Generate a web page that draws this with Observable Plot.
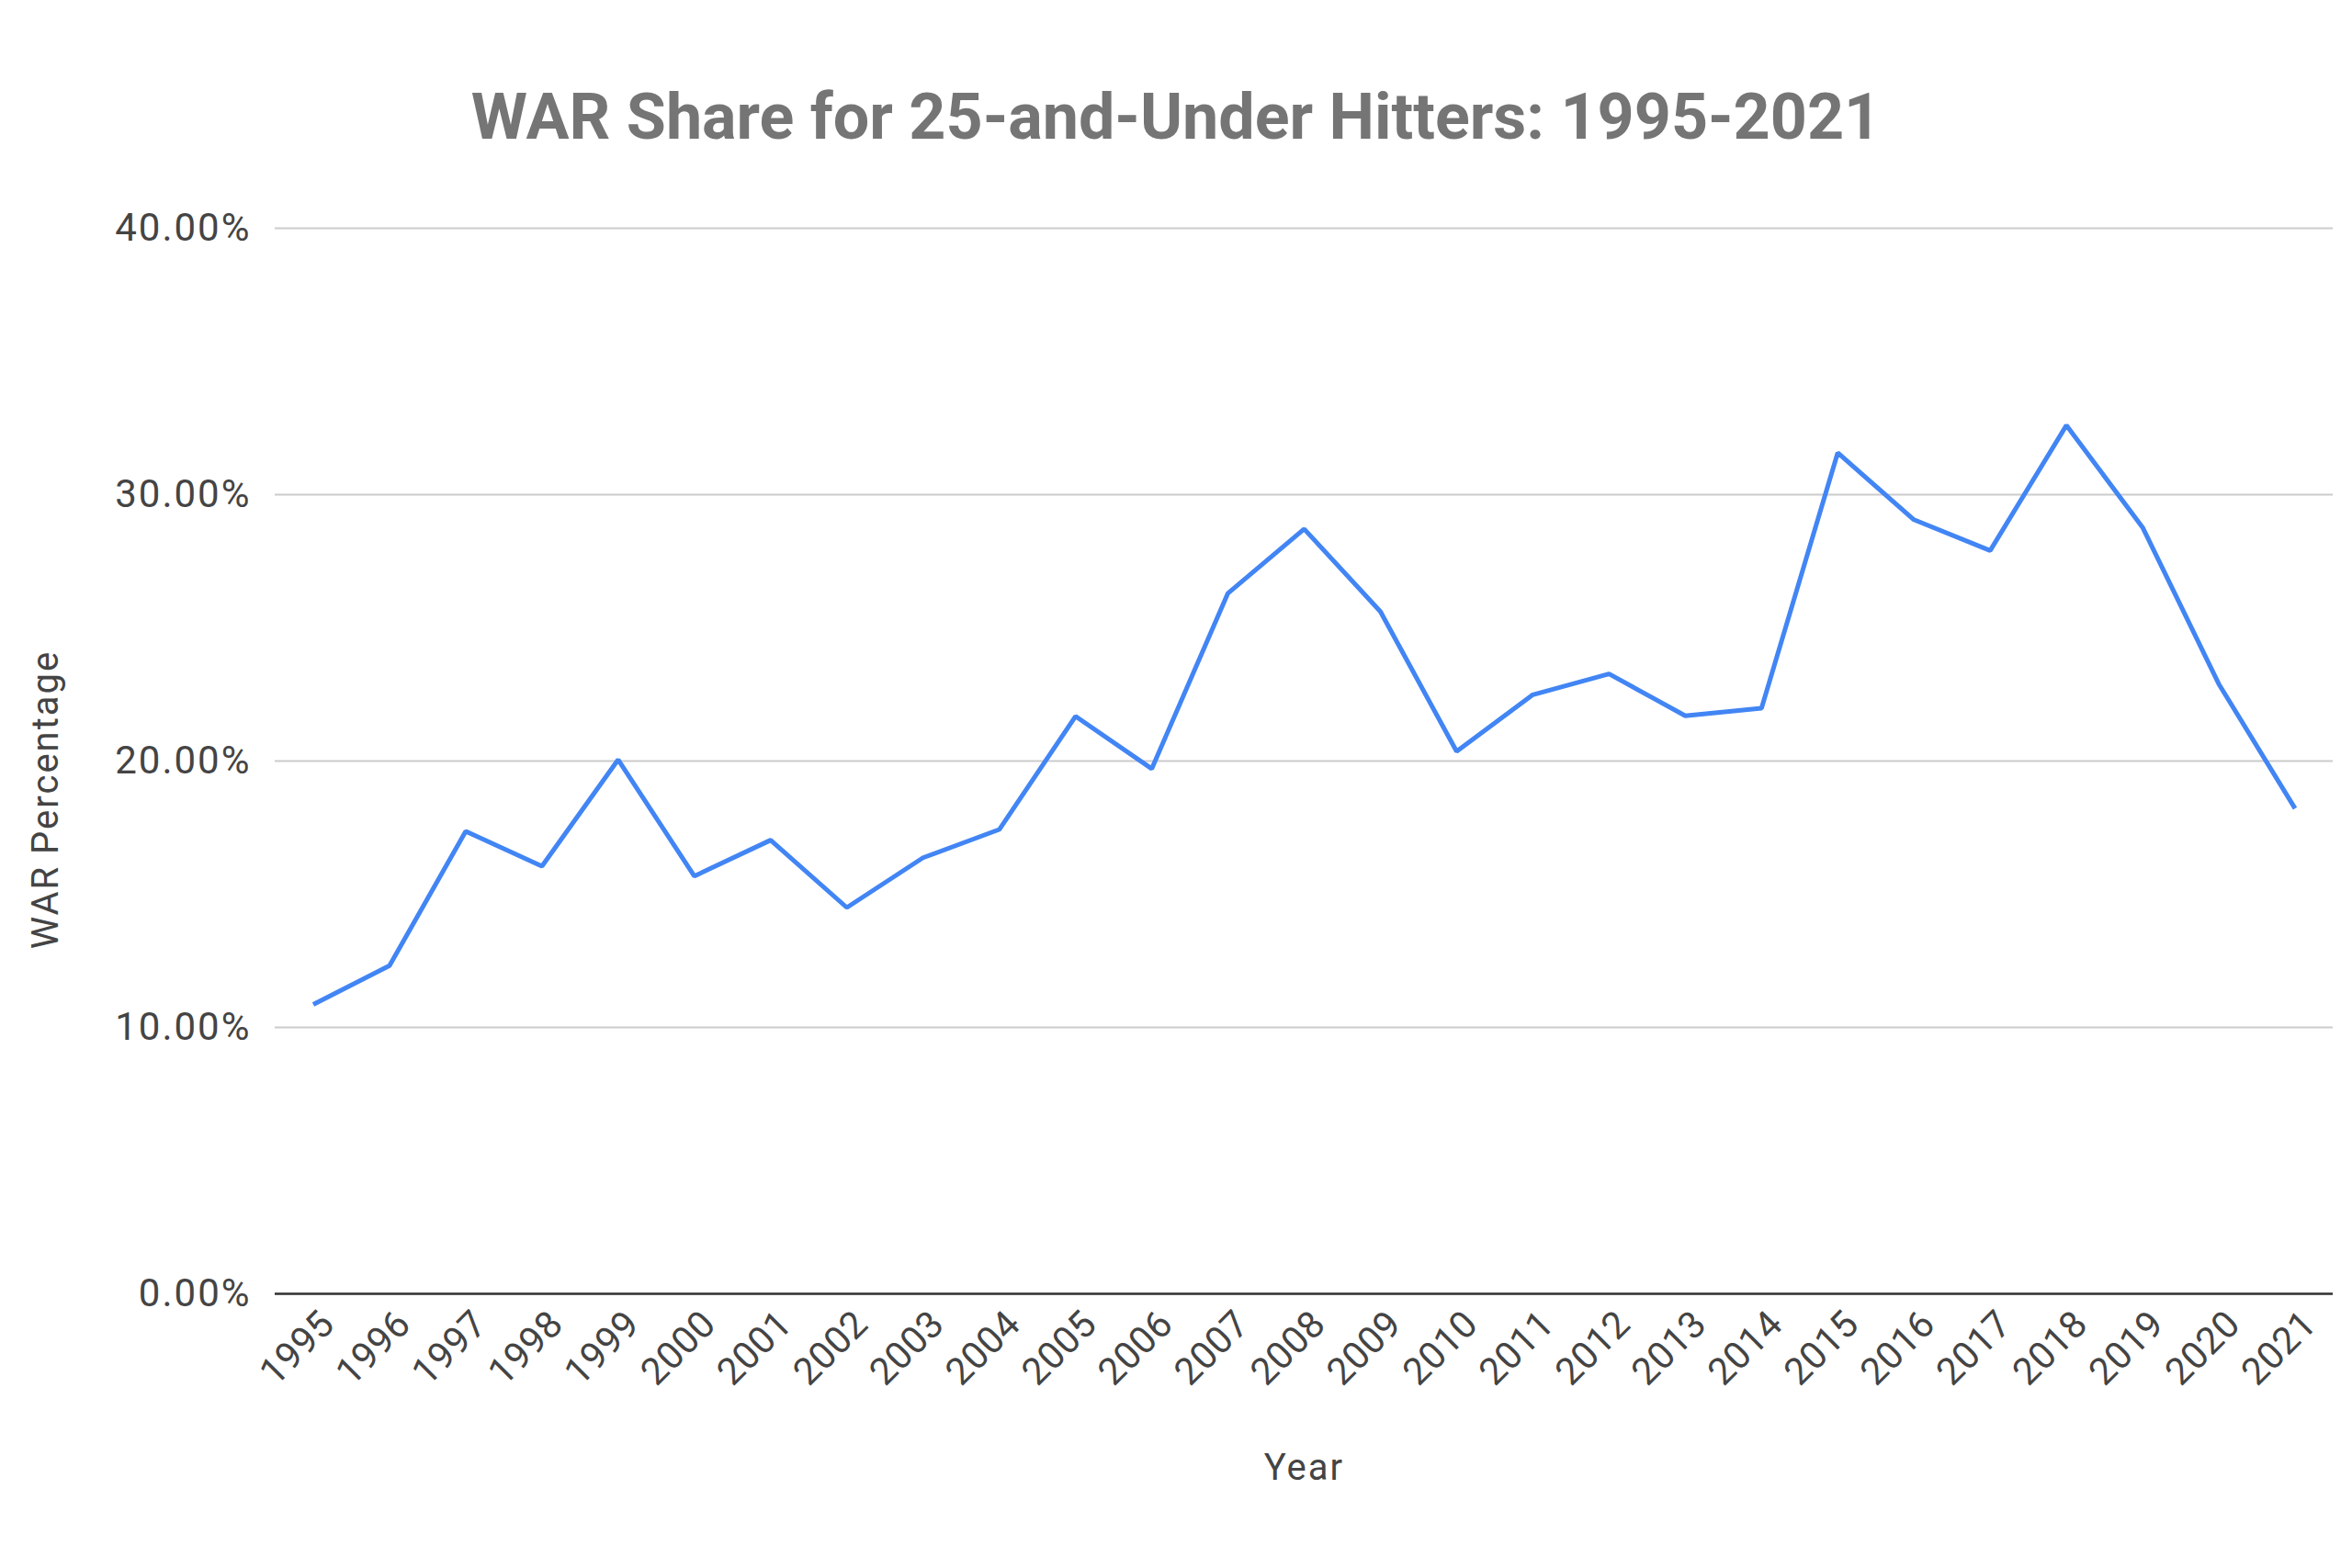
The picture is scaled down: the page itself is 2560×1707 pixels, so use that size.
<!DOCTYPE html>
<html>
<head>
<meta charset="utf-8">
<script src="https://cdn.jsdelivr.net/npm/d3@7"></script>
<script src="https://cdn.jsdelivr.net/npm/@observablehq/plot@0.6"></script>
<style>
  html, body { margin: 0; padding: 0; background: #ffffff; }
  #wrap { width: 2560px; height: 1707px; position: relative; overflow: hidden; }
  #title {
    margin: 0; padding-top: 92px; height: 71px; line-height: 71px;
    font-family: Roboto, "Liberation Sans", Arial, sans-serif;
    font-weight: 700; font-size: 70px; color: #757575;
    text-align: center; width: 2560px; white-space: nowrap;
  }
  svg { display: block; }
  g[aria-label="y-axis tick label"] text { letter-spacing: 2px; }
  g[aria-label="x-axis tick label"] text { letter-spacing: 0.5px; }
  g[aria-label="text"] text { letter-spacing: 2px; }
</style>
</head>
<body>
<div id="wrap">
  <h2 id="title">WAR Share for 25-and-Under Hitters: 1995-2021</h2>
  <div id="chart"></div>
</div>
<script>
const years = ["1995","1996","1997","1998","1999","2000","2001","2002","2003","2004","2005","2006","2007","2008","2009","2010","2011","2012","2013","2014","2015","2016","2017","2018","2019","2020","2021"];
const warShare = [0.1086,0.1232,0.1736,0.1605,0.2005,0.1568,0.1703,0.1450,0.1637,0.1743,0.2168,0.1971,0.2630,0.2871,0.2561,0.2036,0.2249,0.2327,0.2170,0.2198,0.3157,0.2906,0.2790,0.3260,0.2877,0.2289,0.1822];
const yTicks = [0, 0.1, 0.2, 0.3, 0.4];
const xTitle = "Year";
const yTitle = "WAR Percentage";

const data = years.map((y, i) => ({year: y, share: warShare[i]}));

const font = "Roboto, 'Noto Sans', sans-serif";
const chart = Plot.plot({
  width: 2560,
  height: 1544,
  marginLeft: 299,
  marginRight: 21,
  marginTop: 85,
  marginBottom: 299,
  style: {fontFamily: font, fontSize: "40px", color: "#333333", background: "#ffffff"},
  x: {type: "point", domain: years, padding: 0.5, round: false, label: null},
  y: {domain: [0, 0.4], label: null},
  marks: [
    Plot.gridY(yTicks, {stroke: "#cccccc", strokeOpacity: 1, strokeWidth: 2}),
    Plot.axisY(yTicks, {tickSize: 0, tickPadding: 26, tickFormat: d3.format(".2%"), fill: "#444444", fontSize: 42, label: null}),
    Plot.axisX(years, {tickSize: 0, tickPadding: 22, tickRotate: -45, fill: "#444444", fontSize: 41, label: null, dx: 16, dy: 4}),
    Plot.ruleY([0], {stroke: "#333333", strokeWidth: 2.5}),
    Plot.line(data, {x: "year", y: "share", stroke: "#4285F4", strokeWidth: 5, strokeLinejoin: "miter", strokeLinecap: "butt"}),
    Plot.text([xTitle], {frameAnchor: "bottom", lineAnchor: "bottom", dy: 202, fontSize: 40, fill: "#444444"}),
    Plot.text([yTitle], {frameAnchor: "left", textAnchor: "middle", lineAnchor: "bottom", rotate: -90, dx: -237, dy: 42, fontSize: 40, fill: "#444444"})
  ]
});
document.getElementById("chart").appendChild(chart);
</script>
</body>
</html>
